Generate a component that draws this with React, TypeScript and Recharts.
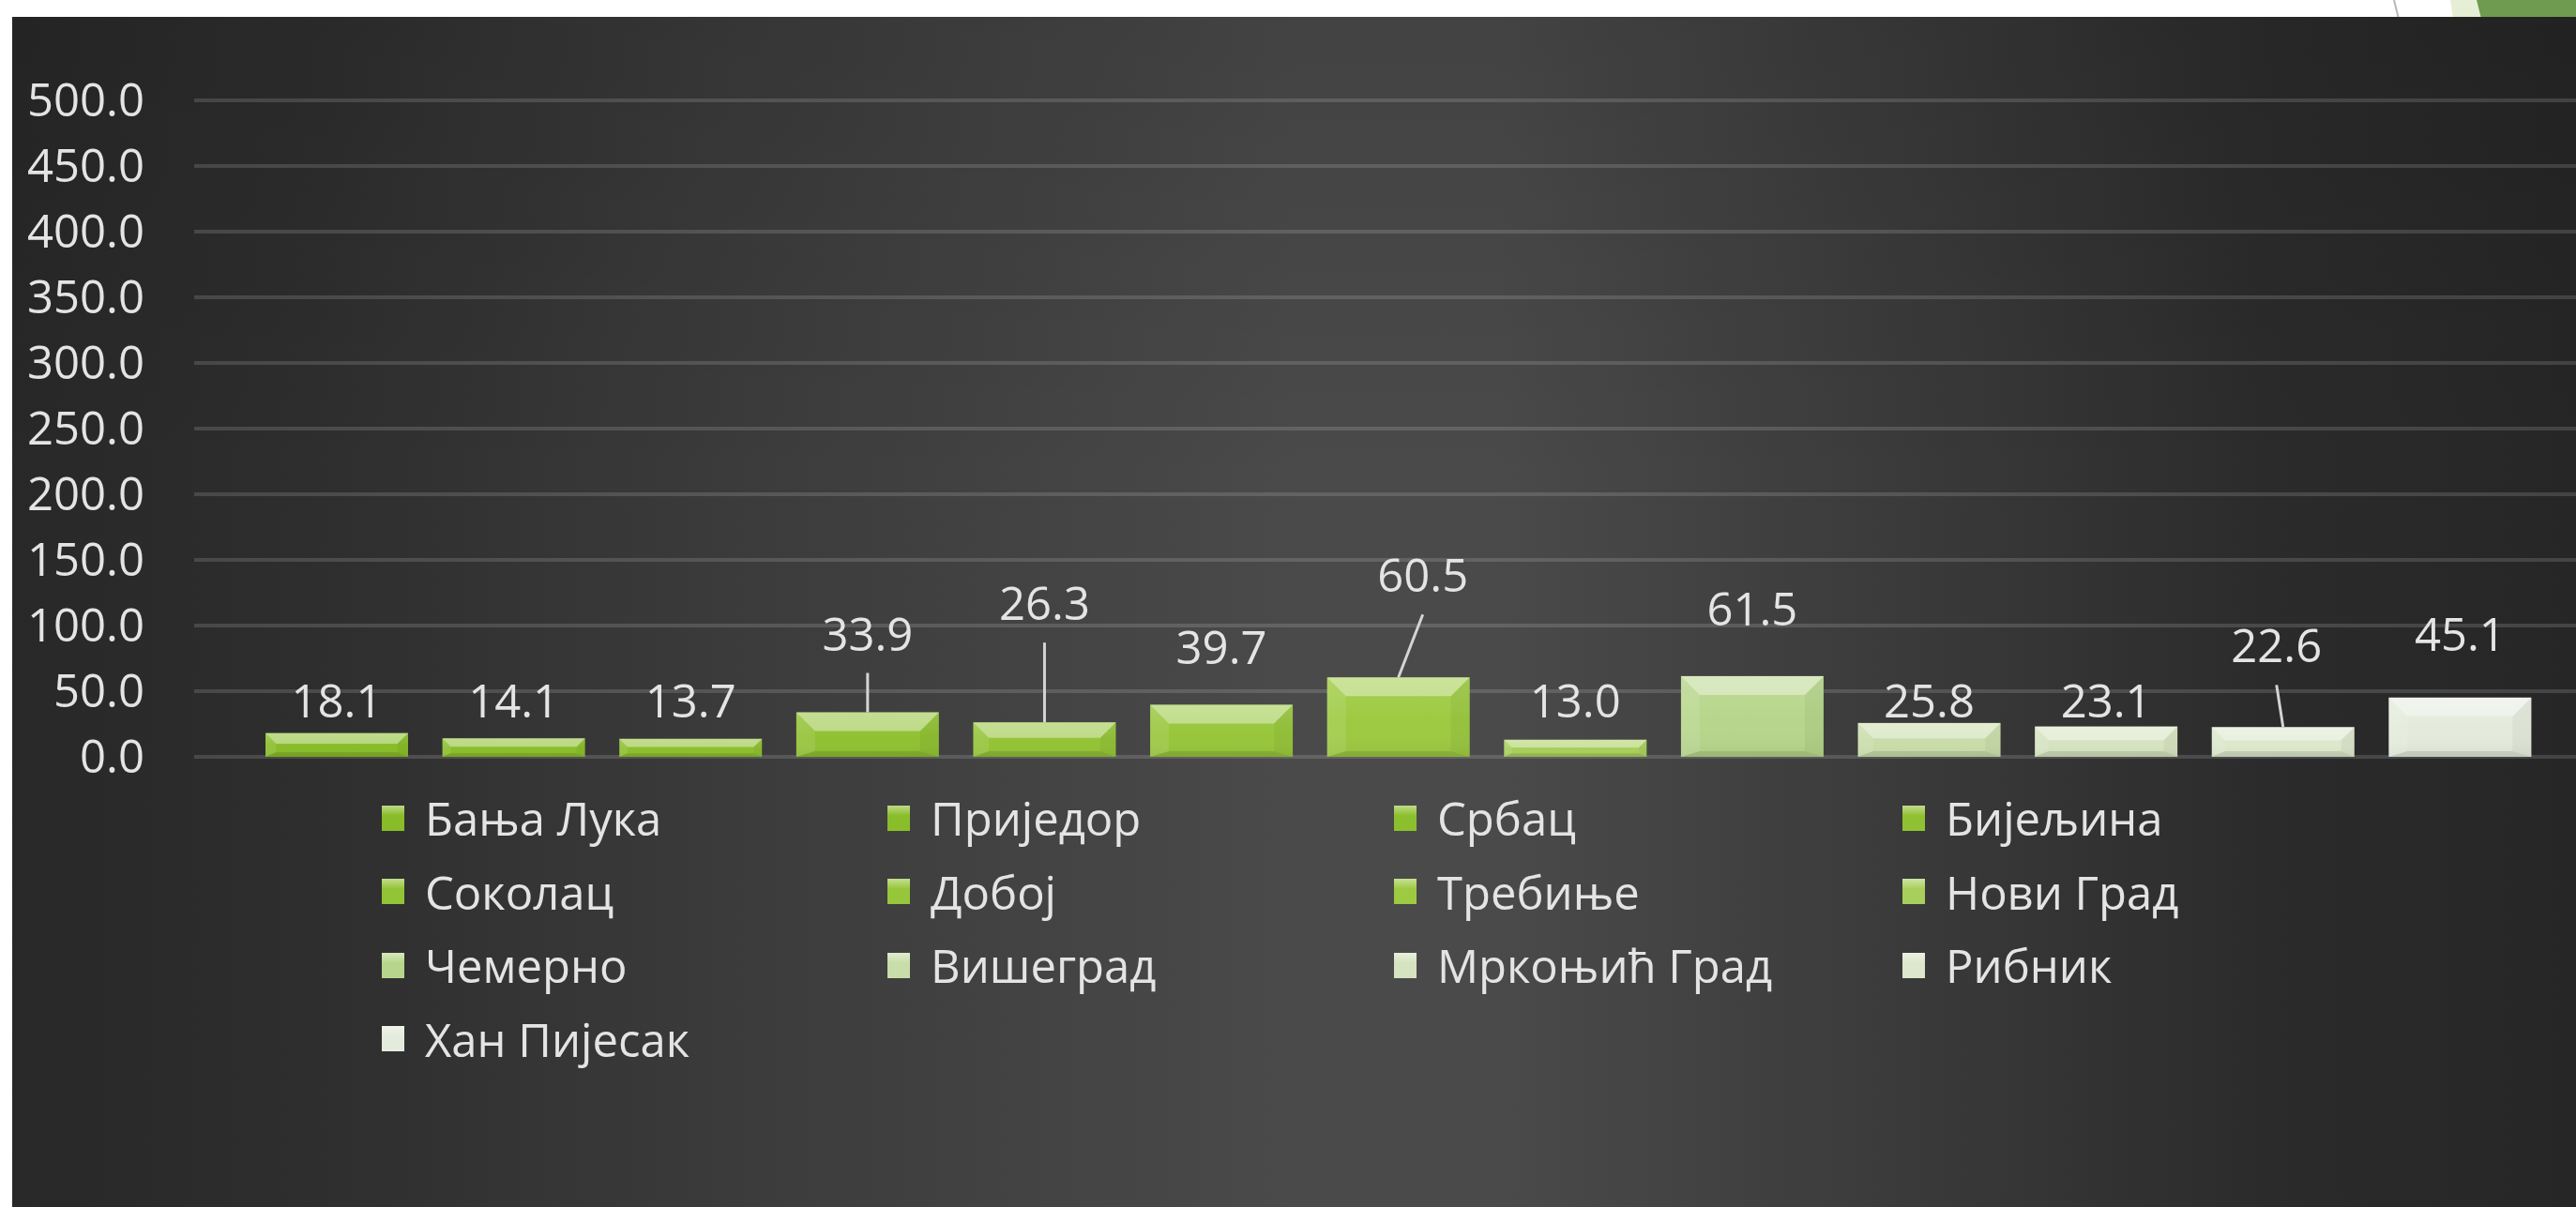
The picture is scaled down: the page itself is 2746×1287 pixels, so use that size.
import React from 'react';
import {
  Bar,
  BarChart,
  CartesianGrid,
  LabelList,
  Legend,
  XAxis,
  YAxis,
} from 'recharts';

const categories = [
  'Бања Лука',
  'Приједор',
  'Србац',
  'Бијељина',
  'Соколац',
  'Добој',
  'Требиње',
  'Нови Град',
  'Чемерно',
  'Вишеград',
  'Мркоњић Град',
  'Рибник',
  'Хан Пијесак',
];

const values = [18.1, 14.1, 13.7, 33.9, 26.3, 39.7, 60.5, 13.0, 61.5, 25.8, 23.1, 22.6, 45.1];

const yTicks = [0, 50, 100, 150, 200, 250, 300, 350, 400, 450, 500];

// styling only
const barColors = [
  '#88bc28', '#8abd2b', '#8cbf2e', '#90c132', '#93c336', '#97c63b', '#9dca41',
  '#a8cf5c', '#b7d68b', '#c9ddaa', '#d5e3c0', '#dce7cc', '#e4ebdc',
];
// how far each data label sits above its bar, and sideways nudge
const labelLift = [36, 41, 42, 85, 128, 62, 110, 43, 73, 25, 29, 88, 69];
const labelShift = [0, 0, 0, 0, 0, 0, 26, 0, 0, 0, 0, -7, 0];

const rows = categories.map((name, i) => ({ name, value: values[i] }));

const W = 2746;
const H = 1287;
const LEGEND_H = 480;
const FONT = '"Open Sans", "Noto Sans", sans-serif';
const TEXT = '#e4e4e4';

function BevelBar(props: any) {
  const { x, y, width: w, height: h, index } = props;
  if (!h || h <= 0) return null;
  const c = barColors[index];
  const b = Math.min(20, h * 0.45, w / 2);
  const bb = Math.min(6, h * 0.2);
  const id = `sheen-${index}`;
  return (
    <g>
      <defs>
        <linearGradient id={id} x1="0" y1="0" x2="0" y2="1">
          <stop offset="0%" stopColor="#ffffff" stopOpacity={0.12} />
          <stop offset="55%" stopColor="#ffffff" stopOpacity={0} />
          <stop offset="100%" stopColor="#000000" stopOpacity={0.05} />
        </linearGradient>
      </defs>
      <rect x={x} y={y} width={w} height={h} fill={c} />
      <rect x={x} y={y} width={w} height={h} fill={`url(#${id})`} />
      <polygon
        points={`${x},${y} ${x + b},${y + b} ${x + b},${y + h - bb} ${x},${y + h}`}
        fill="#ffffff"
        fillOpacity={0.1}
      />
      <polygon
        points={`${x + w},${y} ${x + w - b},${y + b} ${x + w - b},${y + h - bb} ${x + w},${y + h}`}
        fill="#000000"
        fillOpacity={0.04}
      />
      <polygon
        points={`${x},${y} ${x + w},${y} ${x + w - b},${y + b} ${x + b},${y + b}`}
        fill="#ffffff"
        fillOpacity={0.4}
      />
      <polygon
        points={`${x},${y + h} ${x + b},${y + h - bb} ${x + w - b},${y + h - bb} ${x + w},${y + h}`}
        fill="#000000"
        fillOpacity={0.1}
      />
    </g>
  );
}

function renderLabel(props: any) {
  const { x, y, width, value, index } = props;
  const cx = x + width / 2;
  const lift = labelLift[index];
  const lx = cx + labelShift[index];
  const ly = y - lift;
  return (
    <g key={`lbl-${index}`}>
      {lift > 80 && (
        <line x1={lx} y1={ly + 43} x2={cx} y2={y} stroke="#d4d4d4" strokeWidth={3} />
      )}
      <text
        x={lx}
        y={ly}
        textAnchor="middle"
        dominantBaseline="central"
        fill={TEXT}
        fontSize={49}
        fontFamily={FONT}
      >
        {Number(value).toFixed(1)}
      </text>
    </g>
  );
}

const legendCols = [407, 946, 1486, 2028];

function renderLegend() {
  return (
    <div style={{ position: 'relative', width: W, height: LEGEND_H }}>
      {categories.map((name, i) => {
        const col = i % 4;
        const row = Math.floor(i / 4);
        const cy = 65 + row * 78.5;
        return (
          <div
            key={name}
            style={{
              position: 'absolute',
              left: legendCols[col],
              top: cy - 35,
              height: 70,
              display: 'flex',
              alignItems: 'center',
              whiteSpace: 'nowrap',
            }}
          >
            <span
              style={{
                display: 'inline-block',
                width: 24,
                height: 27,
                background: `linear-gradient(to bottom, #ffffff70 0%, ${barColors[i]} 40%, ${barColors[i]} 100%)`,
                backgroundColor: barColors[i],
                marginRight: 22,
              }}
            />
            <span style={{ color: TEXT, fontSize: 49, fontFamily: FONT, lineHeight: '70px' }}>
              {name}
            </span>
          </div>
        );
      })}
    </div>
  );
}

export default function App() {
  return (
    <div
      style={{
        position: 'absolute',
        left: 0,
        top: 0,
        width: W,
        height: H,
        background: '#ffffff',
        overflow: 'hidden',
        fontFamily: FONT,
      }}
    >
      <svg
        width={W}
        height={20}
        style={{ position: 'absolute', left: 0, top: 0 }}
      >
        <line x1={2552} y1={0} x2={2557} y2={20} stroke="#b8b8b8" strokeWidth={2} />
        <polygon points="2612,0 2640,0 2645,20 2615,20" fill="#e6efd6" />
        <polygon points="2640,0 2746,0 2746,20 2645,20" fill="#6e9b4f" />
      </svg>
      <div
        style={{
          position: 'absolute',
          left: 13,
          top: 18,
          width: W - 13,
          height: H - 18,
          background:
            'linear-gradient(to bottom, rgba(0,0,0,0.10) 0%, rgba(0,0,0,0) 40%), linear-gradient(to right, #282828 0%, #2e2e2e 12%, #3b3b3b 28%, #4a4a4a 50%, #4a4a4a 58%, #393939 75%, #2b2b2b 88%, #262626 100%)',
        }}
      />
      <div style={{ position: 'absolute', left: 0, top: 0 }}>
        <BarChart
          width={W}
          height={H}
          data={rows}
          margin={{ top: 107, right: 0, bottom: 0, left: 0 }}
        >
          <CartesianGrid vertical={false} stroke="rgba(255,255,255,0.14)" strokeWidth={4} />
          <XAxis
            dataKey="name"
            tick={false}
            tickLine={false}
            height={0}
            axisLine={{ stroke: '#a8a8a8', strokeWidth: 5 }}
            padding={{ left: 58, right: 29 }}
          />
          <YAxis
            domain={[0, 500]}
            ticks={yTicks}
            interval={0}
            width={207}
            axisLine={false}
            tickLine={false}
            tickSize={0}
            tickMargin={53}
            tickFormatter={(v: number) => v.toFixed(1)}
            tick={{ fill: TEXT, fontSize: 49, fontFamily: FONT }}
          />
          <Legend
            verticalAlign="bottom"
            content={renderLegend}
            wrapperStyle={{ left: 0, bottom: 0, width: W, height: LEGEND_H }}
          />
          <Bar dataKey="value" barSize={152} shape={BevelBar} isAnimationActive={false}>
            <LabelList dataKey="value" content={renderLabel} />
          </Bar>
        </BarChart>
      </div>
    </div>
  );
}
